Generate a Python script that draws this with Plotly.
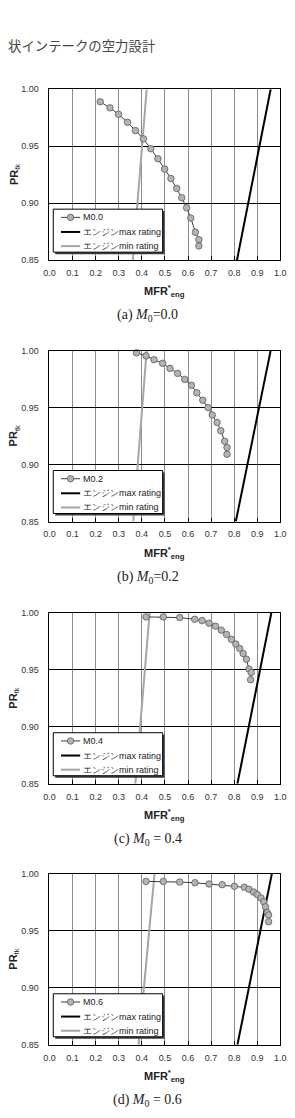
import plotly.graph_objects as go

W, H = 295, 1118

# ---------------- data ----------------
mfr_m00 = [0.220, 0.262, 0.299, 0.338, 0.3725, 0.407, 0.439, 0.470, 0.499, 0.526, 0.551, 0.573, 0.594, 0.612, 0.632, 0.647, 0.647]
pr_m00 = [0.989, 0.9837, 0.978, 0.971, 0.9637, 0.9565, 0.9478, 0.939, 0.930, 0.9217, 0.913, 0.9048, 0.896, 0.887, 0.8746, 0.868, 0.8625]

mfr_m02 = [0.377, 0.418, 0.453, 0.490, 0.522, 0.555, 0.586, 0.615, 0.638, 0.664, 0.687, 0.705, 0.726, 0.742, 0.759, 0.769, 0.769]
pr_m02 = [0.998, 0.9954, 0.992, 0.9888, 0.9844, 0.980, 0.9747, 0.9695, 0.963, 0.9565, 0.950, 0.9435, 0.9369, 0.9297, 0.9204, 0.915, 0.909]

mfr_m04 = [0.418, 0.493, 0.564, 0.629, 0.661, 0.691, 0.719, 0.744, 0.767, 0.788, 0.807, 0.824, 0.839, 0.853, 0.864, 0.874, 0.871]
pr_m04 = [0.9964, 0.9964, 0.9958, 0.9943, 0.9932, 0.9909, 0.9883, 0.9848, 0.981, 0.9767, 0.9726, 0.9686, 0.9643, 0.9593, 0.9506, 0.9477, 0.9413]

mfr_m06 = [0.418, 0.493, 0.564, 0.630, 0.691, 0.748, 0.801, 0.844, 0.864, 0.884, 0.900, 0.916, 0.928, 0.936, 0.943, 0.949, 0.949]
pr_m06 = [0.9934, 0.9934, 0.9928, 0.9922, 0.9911, 0.9905, 0.9891, 0.9882, 0.9865, 0.9841, 0.9818, 0.9789, 0.9754, 0.9711, 0.9661, 0.9639, 0.958]

rating_pr = [0.85, 1.00]
max_rating_mfr = [[0.812, 0.958], [0.807, 0.958], [0.814, 0.961], [0.814, 0.963]]
min_rating_mfr = [[0.361, 0.421], [0.363, 0.421], [0.372, 0.434], [0.386, 0.455]]

series_names = ["M0.0", "M0.2", "M0.4", "M0.6"]
captions = ["(a) <i>M</i><sub>0</sub>=0.0", "(b) <i>M</i><sub>0</sub>=0.2",
            "(c) <i>M</i><sub>0</sub> = 0.4", "(d) <i>M</i><sub>0</sub> = 0.6"]
x_ticks = [0.0, 0.1, 0.2, 0.3, 0.4, 0.5, 0.6, 0.7, 0.8, 0.9, 1.0]
y_ticks = [0.85, 0.90, 0.95, 1.00]
header_text = "状インテークの空力設計"
legend_max = "エンジンmax rating"
legend_min = "エンジンmin rating"

all_mfr = [mfr_m00, mfr_m02, mfr_m04, mfr_m06]
all_pr = [pr_m00, pr_m02, pr_m04, pr_m06]

# ---------------- layout geometry (pixels) ----------------
PX_L, PX_R = 45.3, 286.0
panel_tops = [85.0, 348.7, 613.3, 876.7]
PANEL_H = 172.5


def px(x):
    return x / W


def py(y):
    return 1 - y / H


SANS = "Liberation Sans, Arial, sans-serif"
SERIF = "Liberation Serif, Times New Roman, serif"

fig = go.Figure()
shapes = []
annotations = []
layout_axes = {}

for i in range(4):
    n = "" if i == 0 else str(i + 1)
    xa, ya = "x" + n, "y" + n
    top = panel_tops[i]
    bot = top + PANEL_H

    # rating lines
    fig.add_trace(go.Scatter(x=min_rating_mfr[i], y=rating_pr, mode="lines",
                             line=dict(color="#a6a6a6", width=2),
                             xaxis=xa, yaxis=ya, showlegend=False, name=legend_min))
    fig.add_trace(go.Scatter(x=max_rating_mfr[i], y=rating_pr, mode="lines",
                             line=dict(color="#000000", width=2),
                             xaxis=xa, yaxis=ya, showlegend=False, name=legend_max))
    # data
    fig.add_trace(go.Scatter(x=all_mfr[i], y=all_pr[i], mode="lines+markers",
                             line=dict(color="#3c3c3c", width=1),
                             marker=dict(size=6.5, color="#b4b4b4",
                                         line=dict(color="#5a5a5a", width=0.8)),
                             xaxis=xa, yaxis=ya, showlegend=False, name=series_names[i],
                             cliponaxis=False))

    layout_axes["xaxis" + n] = dict(
        domain=[px(PX_L), px(PX_R)], anchor=ya, range=[0, 1],
        tickvals=x_ticks, ticktext=[f"{v:.1f}" for v in x_ticks],
        showgrid=True, gridcolor="#8c8c8c", gridwidth=1,
        ticks="inside", ticklen=4, tickcolor="#000", tickwidth=1,
        showline=True, linecolor="#000", linewidth=1, mirror=True,
        zeroline=False, fixedrange=True,
        tickfont=dict(family=SANS, size=9, color="#333"),
        ticklabelstandoff=4,
    )
    layout_axes["yaxis" + n] = dict(
        domain=[py(bot), py(top)], anchor=xa, range=[0.85, 1.0],
        tickvals=y_ticks, ticktext=[f"{v:.2f}" for v in y_ticks],
        showgrid=True, gridcolor="#000", gridwidth=1,
        ticks="", showline=True, linecolor="#000", linewidth=1, mirror=True,
        zeroline=False, fixedrange=True,
        tickfont=dict(family=SANS, size=9, color="#333"),
        ticklabelstandoff=8,
    )

    # axis titles
    annotations.append(dict(
        x=px((PX_L + PX_R) / 2), y=py(bot + 31.5), xref="paper", yref="paper",
        text="<b>MFR<sup>*</sup><sub>eng</sub></b>", showarrow=False,
        font=dict(family=SANS, size=11, color="#222"), xanchor="center", yanchor="middle"))
    annotations.append(dict(
        x=px(8.7), y=py(top + PANEL_H / 2), xref="paper", yref="paper",
        text="<b>PR</b><sub>tk</sub>", showarrow=False, textangle=-90,
        font=dict(family=SANS, size=11, color="#222"), xanchor="center", yanchor="middle"))
    # caption
    annotations.append(dict(
        x=px(147.5), y=py(bot + 56), xref="paper", yref="paper",
        text=captions[i], showarrow=False,
        font=dict(family=SERIF, size=14, color="#222"), xanchor="center", yanchor="middle"))

    # ---- manual legend box ----
    bx0, bx1 = 49.3, 163.3
    by0, by1 = top + 121.0, top + 164.4
    shapes.append(dict(type="rect", xref="paper", yref="paper", layer="above",
                       x0=px(bx0 + 2), x1=px(bx1 + 2), y0=py(by0 + 2), y1=py(by1 + 2),
                       fillcolor="#3a3a3a", line=dict(width=0)))
    shapes.append(dict(type="rect", xref="paper", yref="paper", layer="above",
                       x0=px(bx0), x1=px(bx1), y0=py(by0), y1=py(by1),
                       fillcolor="#ffffff", line=dict(color="#000", width=1)))
    rows = [top + 129.3, top + 144.0, top + 158.3]
    lx0, lx1 = 57.3, 77.3
    shapes.append(dict(type="line", xref="paper", yref="paper", layer="above",
                       x0=px(lx0), x1=px(lx1), y0=py(rows[0]), y1=py(rows[0]),
                       line=dict(color="#3c3c3c", width=1)))
    r = 3.3
    shapes.append(dict(type="circle", xref="paper", yref="paper", layer="above",
                       x0=px(67.3 - r), x1=px(67.3 + r), y0=py(rows[0] + r), y1=py(rows[0] - r),
                       fillcolor="#b4b4b4", line=dict(color="#5a5a5a", width=0.8)))
    shapes.append(dict(type="line", xref="paper", yref="paper", layer="above",
                       x0=px(lx0), x1=px(lx1), y0=py(rows[1]), y1=py(rows[1]),
                       line=dict(color="#000", width=2)))
    shapes.append(dict(type="line", xref="paper", yref="paper", layer="above",
                       x0=px(lx0), x1=px(lx1), y0=py(rows[2]), y1=py(rows[2]),
                       line=dict(color="#a6a6a6", width=2)))
    for rr, label in zip(rows, [series_names[i], legend_max, legend_min]):
        annotations.append(dict(
            x=px(78.7), y=py(rr), xref="paper", yref="paper", text=label,
            showarrow=False, xanchor="left", yanchor="middle",
            font=dict(family=SANS, size=9, color="#222")))

# header
annotations.append(dict(
    x=0, y=py(40), xref="paper", yref="paper", text=header_text, showarrow=False,
    xanchor="left", yanchor="middle",
    font=dict(family="Noto Sans CJK JP", size=13.4, color="#444")))

fig.update_layout(
    width=W, height=H, margin=dict(l=0, r=0, t=0, b=0),
    paper_bgcolor="#ffffff", plot_bgcolor="#ffffff",
    showlegend=False, shapes=shapes, annotations=annotations,
    **layout_axes,
)

fig.write_html("out.html", config={"displayModeBar": False})
